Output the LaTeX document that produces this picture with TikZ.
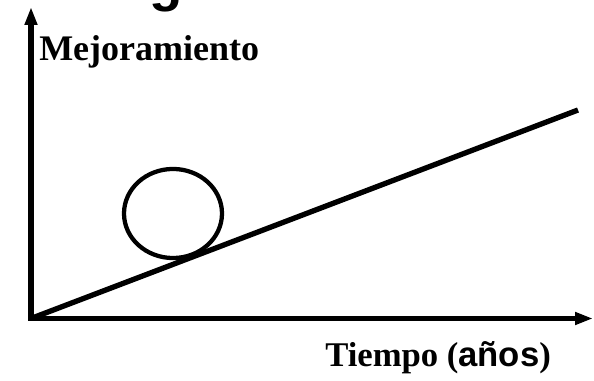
\documentclass[tikz,border=0pt]{standalone}
\usepackage{fontspec}
\setmainfont{Liberation Serif}
\newfontfamily\arialfont{Liberation Sans}
\usepackage{tikz}
\usetikzlibrary{arrows.meta}
\tikzset{
  ejeline/.style={line width=4pt, draw=black, line join=miter, {Triangle[length=13.5pt,width=9pt]}-{Triangle[length=13.5pt,width=9pt]}},
  rectaline/.style={line width=4pt, draw=black, line cap=butt},
  bucle/.style={line width=3.2pt, draw=black},
  rotulo/.style={font=\bfseries\fontsize{27}{32}\selectfont, inner sep=0pt},
  titulo/.style={font=\arialfont\bfseries\fontsize{41}{48}\selectfont, inner sep=0pt},
}
\begin{document}
\begin{tikzpicture}[x=0.75pt, y=-0.75pt]
\useasboundingbox (0,0) rectangle (594,381);
\coordinate (origen) at (31,318.5);
\coordinate (ytope) at (31,7);
\coordinate (xtope) at (593,318.5);
\coordinate (fin) at (578,110);
\draw[ejeline] (ytope) -- (origen) -- (xtope);
\draw[rectaline] (origen) -- (fin);
\draw[bucle] (173,213.5) ellipse [x radius=36.75pt, y radius=33.4pt];
\node[titulo, anchor=base] (tit) at (166,0.5) {g};
\node[rotulo, anchor=base west] (mejora) at (39,61) {Mejoramiento};
\node[rotulo, anchor=base west, font=\bfseries\fontsize{26}{30}\selectfont] (tiempo) at (325,366.5) {Tiempo ({\arialfont años})};
\end{tikzpicture}
\end{document}
